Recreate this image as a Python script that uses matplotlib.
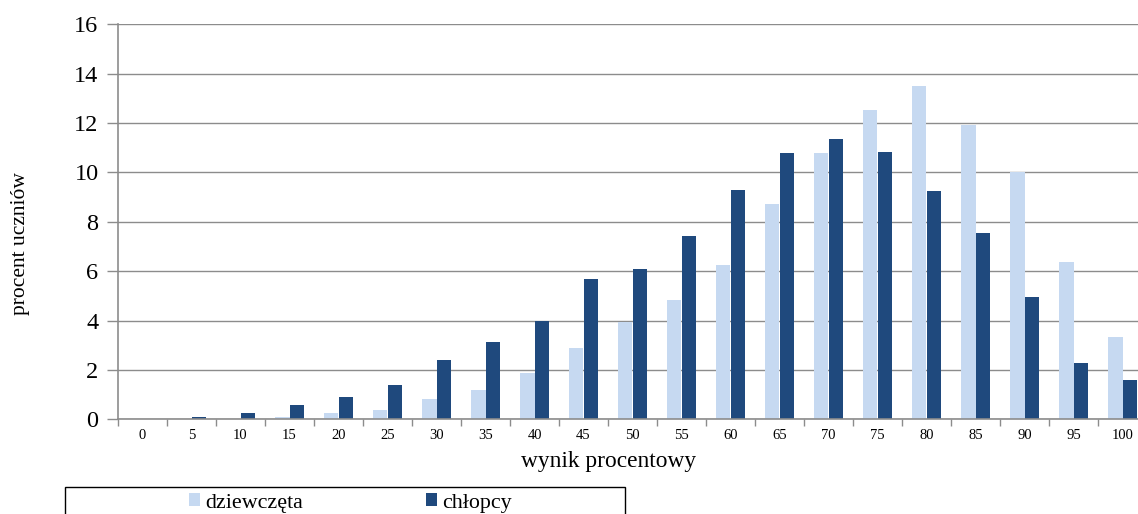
import matplotlib.pyplot as plt
from matplotlib.patches import Rectangle
import numpy as np

# wyniki procentowe (kategorie) i odsetki uczniow
wyniki = ["0", "5", "10", "15", "20", "25", "30", "35", "40", "45", "50",
          "55", "60", "65", "70", "75", "80", "85", "90", "95", "100"]
dziewczeta = [0.0, 0.0, 0.02, 0.10, 0.27, 0.38, 0.81, 1.19, 1.89, 2.90, 3.93,
              4.83, 6.24, 8.72, 10.77, 12.54, 13.49, 11.92, 10.00, 6.36, 3.35]
chlopcy = [0.0, 0.11, 0.27, 0.57, 0.89, 1.38, 2.40, 3.12, 3.99, 5.67, 6.08,
           7.42, 9.29, 10.77, 11.35, 10.81, 9.25, 7.56, 4.97, 2.28, 1.59]

plt.rcParams['font.family'] = ['Liberation Serif', 'DejaVu Serif']

jasny = "#C6D9F1"
ciemny = "#1F497D"
szary = "#8C8C8C"

fig = plt.figure(figsize=(11.38, 5.14), dpi=100)
ax = fig.add_axes([118 / 1138, (514 - 419.3) / 514, 1029 / 1138, 395 / 514])

x = np.arange(len(wyniki))
w = 0.286
ax.bar(x - w / 2, dziewczeta, width=w, color=jasny, label="dziewczęta", zorder=3)
ax.bar(x + w / 2, chlopcy, width=w, color=ciemny, label="chłopcy", zorder=3)

ax.set_xlim(-0.5, len(wyniki) - 0.5)
ax.set_ylim(0, 16)
ax.set_yticks(range(0, 17, 2))
ax.set_xticks(x)
ax.set_xticklabels(wyniki, fontsize=10.5)
ax.set_xticks(np.arange(-0.5, len(wyniki), 1), minor=True)
ax.tick_params(axis="x", which="major", length=0, pad=7)
ax.tick_params(axis="x", which="minor", length=5, color=szary, width=1)
ax.tick_params(axis="y", length=8, color=szary, width=1, labelsize=17.5, pad=6)

ax.grid(axis="y", color=szary, linewidth=1, zorder=0)
for s in ["top", "right"]:
    ax.spines[s].set_visible(False)
for s in ["left", "bottom"]:
    ax.spines[s].set_color(szary)
    ax.spines[s].set_linewidth(1.2)
ax.spines["bottom"].set_zorder(4)

fig.text(609 / 1138, 1 - 462 / 514, "wynik procentowy", fontsize=16.8,
         ha="center", va="center")
fig.text(21 / 1138, 1 - 244 / 514, "procent uczniów", rotation=90,
         fontsize=15.5, ha="center", va="center")

# ramka legendy (ucieta u dolu)
fig.patches.append(Rectangle((65 / 1138, -0.05), 560 / 1138, 0.05 + 27 / 514,
                             transform=fig.transFigure, fill=False,
                             edgecolor="black", linewidth=1))
h, l = ax.get_legend_handles_labels()
fig.legend(h, l, loc="center left", bbox_to_anchor=(169 / 1138, 1 - 503 / 514),
           ncol=2, frameon=False, fontsize=15.8, handlelength=0.5,
           handleheight=0.5, handletextpad=0.25, columnspacing=5.6)

plt.savefig("out.png")
